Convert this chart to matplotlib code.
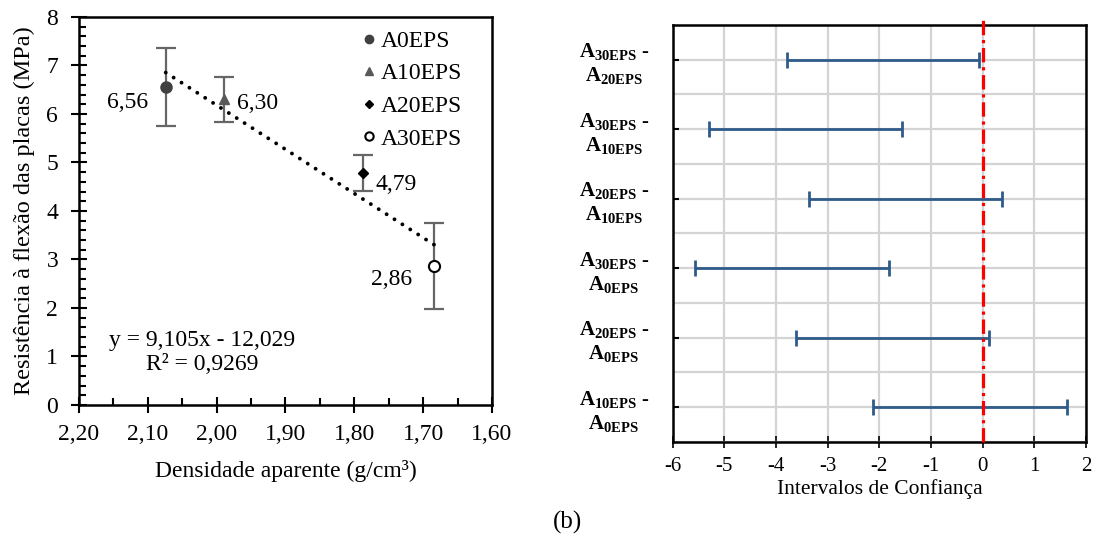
import matplotlib
matplotlib.use("Agg")
import matplotlib.pyplot as plt
from matplotlib.ticker import MultipleLocator, FuncFormatter
import numpy as np

plt.rcParams['font.family'] = ['Liberation Serif', 'DejaVu Serif']
plt.rcParams['mathtext.fontset'] = 'custom'
plt.rcParams['mathtext.rm'] = 'Liberation Serif'
plt.rcParams['mathtext.bf'] = 'Liberation Serif:bold'
plt.rcParams['mathtext.it'] = 'Liberation Serif:italic'
plt.rcParams['axes.unicode_minus'] = False

# ---- data: left panel ----
series = ['A0EPS', 'A10EPS', 'A20EPS', 'A30EPS']
density = [2.074, 1.990, 1.787, 1.684]
strength = [6.56, 6.30, 4.79, 2.86]
strength_err = [0.80, 0.47, 0.37, 0.89]
value_labels = ['6,56', '6,30', '4,79', '2,86']
trend_slope = 9.105
trend_intercept = -12.029
trend_text = 'y = 9,105x - 12,029\nR² = 0,9269'

# ---- data: right panel ----
pairs = [('10', '0'), ('20', '0'), ('30', '0'), ('20', '10'), ('30', '10'), ('30', '20')]
ci_low = [-2.12, -3.62, -5.56, -3.36, -5.30, -3.79]
ci_high = [1.63, 0.12, -1.81, 0.37, -1.57, -0.07]

FS = 17

fig = plt.figure(figsize=(10.94, 5.34), dpi=100)

# ================= left panel =================
ax = fig.add_axes([0.0722, 0.2416, 0.3775, 0.7266])
styles = [dict(marker='o', color='#404040', mfc='#404040', ms=8),
          dict(marker='^', color='#595959', mfc='#595959', ms=7),
          dict(marker='D', color='black', mfc='black', ms=5),
          dict(marker='o', color='black', mfc='white', ms=8, mew=1.5)]
for i, name in enumerate(series):
    st = styles[i]
    ax.errorbar(density[i], strength[i], yerr=strength_err[i], fmt='none',
                ecolor='#666666', elinewidth=1.6, capsize=7, capthick=1.6, zorder=2)
    ax.plot(density[i], strength[i], linestyle='none', marker=st['marker'],
            color=st['color'], mfc=st['mfc'], mec=st['color'], ms=st['ms'],
            mew=st.get('mew', 1), label=name, zorder=3)

xt = np.array([max(density), min(density)])
ax.plot(xt, trend_slope * xt + trend_intercept, linestyle=(0, (0.01, 2.4)),
        color='black', lw=2.8, dash_capstyle='round', solid_capstyle='round', zorder=4)

offsets = [(-13, -11, 'right'), (10, -3, 'left'), (9, -8.5, 'left'), (-16, -9.5, 'right')]
for i in range(4):
    dx, dy, ha = offsets[i]
    ax.annotate(value_labels[i], (density[i], strength[i]), textcoords='offset points',
                xytext=(dx, dy), fontsize=FS, va='center', ha=ha)

ax.text(0.298, 0.135, trend_text, transform=ax.transAxes, fontsize=FS,
        ha='center', va='center', multialignment='center', linespacing=1.15)

ax.set_xlim(2.20, 1.60)
ax.set_ylim(0, 8)
ax.xaxis.set_major_locator(MultipleLocator(0.1))
ax.xaxis.set_minor_locator(MultipleLocator(0.05))
ax.yaxis.set_major_locator(MultipleLocator(1))
ax.yaxis.set_minor_locator(MultipleLocator(0.2))
ax.xaxis.set_major_formatter(FuncFormatter(lambda v, p: f'{v:.2f}'.replace('.', ',')))
ax.tick_params(axis='both', which='major', direction='inout', length=12, width=1.5, labelsize=FS)
ax.tick_params(axis='x', which='major', pad=7.5)
ax.tick_params(axis='y', which='major', pad=9)
ax.tick_params(axis='both', which='minor', direction='in', length=5, width=1.5)
for s in ax.spines.values():
    s.set_linewidth(1.8)
ax.set_xlabel('Densidade aparente (g/cm³)', fontsize=FS, labelpad=11)
ax.set_ylabel('Resistência à flexão das placas (MPa)', fontsize=17.5, labelpad=8)

leg = ax.legend(loc='upper right', frameon=False, fontsize=FS, handletextpad=0.15,
                labelspacing=0.47, borderaxespad=0.0, handlelength=0.7,
                markerscale=0.75, bbox_to_anchor=(0.95, 0.99))

# ================= right panel =================
ax2 = fig.add_axes([0.6149, 0.1723, 0.3778, 0.7809])
ypos = np.arange(len(pairs)) + 0.5
half = [(h - l) / 2 for l, h in zip(ci_low, ci_high)]
ax2.errorbar([(l + h) / 2 for l, h in zip(ci_low, ci_high)], ypos,
             xerr=[half, half],
             fmt='none', ecolor='#2f5b8a', elinewidth=2, capsize=6, capthick=2, zorder=3)
ax2.set_xlim(-6, 2)
ax2.set_ylim(0, 6)
ax2.xaxis.set_major_locator(MultipleLocator(1))
ax2.set_yticks(ypos)
ax2.set_yticks(np.arange(0, 6.01, 0.5), minor=True)
ylabels = [r'$\mathbf{A_{%sEPS}}$ -' '\n' r'$\mathbf{A_{%sEPS}}$' % (a, b) for a, b in pairs]
ax2.set_yticklabels(ylabels, fontsize=15, multialignment='center', fontweight='bold')
ax2.grid(True, which='both', color='#d4d4d4', lw=1.6, zorder=0)
ax2.set_axisbelow(True)
ax2.tick_params(axis='y', which='major', direction='in', length=4, width=1.5, pad=17)
ax2.tick_params(axis='y', which='minor', length=0)
ax2.tick_params(axis='x', which='major', direction='inout', length=8, width=1.2, labelsize=15, pad=7)
for s in ax2.spines.values():
    s.set_linewidth(1.8)
ax2.plot([0, 0], [0, 6.12], color='#ff0000', lw=2.3, linestyle=(0, (4.5, 1.5, 1, 1.5)),
         clip_on=False, zorder=4)
ax2.set_xlabel('Intervalos de Confiança', fontsize=15.5, labelpad=2)

fig.text(0.519, 0.022, '(b)', fontsize=18, ha='center', va='center')

fig.savefig('out.png', dpi=100)
